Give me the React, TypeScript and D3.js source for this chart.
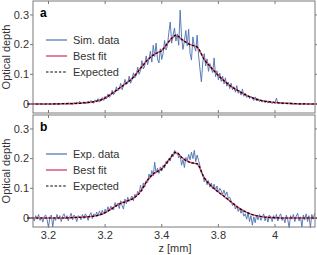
import React from 'react';
import * as d3 from 'd3';

// sampled data: z = zStart + i * zStep
const zStart = 3.145;
const zStep = 0.005;

const simData = [
  0, 0.001, 0, -0.001, 0, 0.001, 0, 0, -0.001, 0,
  0.001, 0, 0, 0.001, -0.001, 0, 0.002, 0, -0.001, 0.001,
  0.001, 0, 0.002, -0.001, 0.001, 0.003, 0, 0.002, -0.001, 0.004,
  0.001, 0.006, 0.002, 0.009, 0.001, 0.004, 0.007, 0.002, 0.003, 0.01,
  0.004, 0.012, 0.006, 0.003, 0.014, 0.008, 0.018, 0.007, 0.011, 0.022,
  0.012, 0.026, 0.018, 0.034, 0.022, 0.029, 0.046, 0.031, 0.04, 0.058,
  0.044, 0.052, 0.07, 0.048, 0.061, 0.083, 0.066, 0.072, 0.094, 0.07,
  0.082, 0.105, 0.088, 0.096, 0.124, 0.1, 0.112, 0.146, 0.118, 0.128,
  0.162, 0.132, 0.151, 0.178, 0.141, 0.198, 0.16, 0.205, 0.152, 0.138,
  0.186, 0.15, 0.172, 0.214, 0.182, 0.196, 0.24, 0.276, 0.205, 0.232,
  0.256, 0.212, 0.236, 0.198, 0.316, 0.225, 0.184, 0.212, 0.248, 0.196,
  0.252, 0.17, 0.148, 0.226, 0.194, 0.178, 0.232, 0.165, 0.118, 0.075,
  0.142, 0.17, 0.128, 0.152, 0.11, 0.136, 0.118, 0.106, 0.155, 0.092,
  0.112, 0.082, 0.104, 0.076, 0.094, 0.068, 0.088, 0.06, 0.074, 0.052,
  0.07, 0.048, 0.058, 0.04, 0.062, 0.036, 0.046, 0.03, 0.05, 0.026,
  0.036, 0.022, 0.03, 0.018, 0.026, 0.02, 0.012, 0.024, 0.01, 0.018,
  0.008, 0.014, 0.006, 0.012, 0.004, 0.01, 0.003, 0.008, 0.005, 0.002,
  0.006, 0.001, 0.02, 0.003, 0.001, 0.005, 0, 0.003, 0.001, 0.002,
  0, 0.003, 0, 0.001, -0.001, 0.002, 0, 0.001, 0, -0.001,
  0.001, 0, 0.002, 0, -0.001, 0.001, 0, 0, 0.001, 0,
];

const expData = [
  0.004, -0.01, 0.008, -0.004, 0.012, -0.008, 0.002, -0.014, 0.006, 0.01,
  -0.006, -0.032, 0.004, 0.01, -0.03, 0.002, -0.008, 0.012, -0.004, 0.008,
  -0.012, 0.006, 0.014, -0.002, 0.008, -0.01, 0.004, 0.016, -0.006, 0.01,
  0.002, -0.012, 0.008, 0.004, -0.006, 0.012, -0.002, 0.014, 0.006, -0.008,
  0.01, 0.018, -0.002, 0.014, 0.006, 0.02, 0.008, 0.024, 0.012, 0.026,
  0.014, 0.03, 0.02, 0.038, 0.024, 0.04, 0.03, 0.028, 0.052, 0.038,
  0.05, 0.032, 0.058, 0.042, 0.03, 0.064, 0.048, 0.07, 0.056, 0.066,
  0.074, 0.058, 0.08, 0.072, 0.09, 0.082, 0.11, 0.092, 0.118, 0.104,
  0.126, 0.12, 0.148, 0.136, 0.16, 0.142, 0.188, 0.152, 0.168, 0.15,
  0.172, 0.158, 0.178, 0.168, 0.19, 0.182, 0.2, 0.192, 0.214, 0.206,
  0.228, 0.216, 0.22, 0.202, 0.212, 0.178, 0.196, 0.17, 0.204, 0.192,
  0.214, 0.196, 0.222, 0.2, 0.228, 0.19, 0.212, 0.194, 0.176, 0.15,
  0.146, 0.122, 0.132, 0.112, 0.126, 0.104, 0.118, 0.098, 0.114, 0.094,
  0.108, 0.086, 0.1, 0.092, 0.08, 0.094, 0.076, 0.088, 0.066, 0.07,
  0.058, 0.042, 0.05, 0.03, 0.04, 0.022, 0.034, 0.016, 0.028, 0.006,
  0.014, -0.004, 0.018, -0.012, 0.008, -0.024, 0.004, -0.016, 0.01, -0.006,
  0.012, -0.008, 0.002, 0.014, -0.01, 0.006, -0.014, 0.01, 0.004, -0.012,
  0.008, -0.004, 0.012, -0.01, 0.006, 0.014, -0.008, 0.002, -0.016, 0.01,
  -0.006, -0.032, 0.008, -0.004, 0.012, -0.012, 0.006, 0.016, -0.01, 0.004,
  -0.03, 0.01, -0.006, 0.014, -0.012, 0.008, -0.032, 0.012, -0.004, 0.016,
];

// smooth curves on a coarser grid
const curveZ = [
  3.125, 3.2, 3.25, 3.3, 3.325, 3.35, 3.375, 3.4, 3.425, 3.45, 3.475, 3.5, 3.525, 3.55,
  3.575, 3.6, 3.625, 3.65, 3.675, 3.7, 3.725, 3.75, 3.775, 3.8, 3.825, 3.85, 3.875, 3.9,
  3.925, 3.95, 3.975, 4.0, 4.025, 4.05, 4.075, 4.125, 4.15,
];
const fitA = [
  0, 0, 0.001, 0.002, 0.004, 0.006, 0.011, 0.02, 0.036, 0.053, 0.071, 0.091, 0.121, 0.149,
  0.168, 0.181, 0.21, 0.23, 0.215, 0.201, 0.191, 0.151, 0.123, 0.097, 0.074, 0.056, 0.042, 0.029,
  0.019, 0.012, 0.008, 0.005, 0.003, 0.002, 0.001, 0, 0,
];
const expectedA = [
  0, 0, 0.001, 0.002, 0.004, 0.006, 0.011, 0.02, 0.036, 0.053, 0.07, 0.09, 0.12, 0.148,
  0.168, 0.18, 0.21, 0.232, 0.214, 0.2, 0.192, 0.15, 0.122, 0.096, 0.074, 0.056, 0.042, 0.029,
  0.019, 0.012, 0.008, 0.005, 0.003, 0.002, 0.001, 0, 0,
];
const fitB = [
  0, 0, 0, 0.002, 0.003, 0.005, 0.009, 0.018, 0.033, 0.048, 0.057, 0.067, 0.09, 0.127,
  0.151, 0.166, 0.196, 0.219, 0.201, 0.188, 0.182, 0.136, 0.107, 0.088, 0.069, 0.05, 0.032, 0.019,
  0.01, 0.005, 0.002, 0.001, 0, 0, 0, 0, 0,
];
const expectedB = [
  0, 0, 0, 0.002, 0.003, 0.005, 0.009, 0.018, 0.032, 0.047, 0.056, 0.066, 0.088, 0.128,
  0.152, 0.165, 0.195, 0.222, 0.2, 0.187, 0.183, 0.135, 0.108, 0.087, 0.07, 0.05, 0.032, 0.019,
  0.01, 0.005, 0.002, 0.001, 0, 0, 0, 0, 0,
];

const xTicks = [3.2, 3.4, 3.6, 3.8, 4.0];
const xTickLabels = ['3.2', '3.2', '3.4', '3.8', '4'];
const yTicks = [0, 0.1, 0.2, 0.3];
const yTickLabels = ['0', '0.1', '0.2', '0.3'];

const panels = [
  { tag: 'a', dataLabel: 'Sim. data', data: simData, fit: fitA, expected: expectedA, top: 1 },
  { tag: 'b', dataLabel: 'Exp. data', data: expData, fit: fitB, expected: expectedB, top: 115 },
];

const left = 33;
const right = 315;
const panelH = 112;
const font = 'Liberation Sans, Arial, sans-serif';
const blue = '#4a6fb0';
const pink = '#d8577a';
const frame = '#7a7a7a';

const x = d3.scaleLinear().domain([3.2, 4.0]).range([48.5, 275]);

const Panel = ({ p }: { p: typeof panels[0] }) => {
  const y = d3.scaleLinear().domain([-0.0303, 0.347]).range([p.top + panelH, p.top]);
  const dataLine = d3.line<number>()
    .x((_, i) => x(zStart + i * zStep))
    .y((d) => y(d));
  const smooth = d3.line<number>()
    .x((_, i) => x(curveZ[i]))
    .y((d) => y(d))
    .curve(d3.curveMonotoneX);

  const legend = [
    { label: p.dataLabel, color: blue, dash: undefined, w: 1.2 },
    { label: 'Best fit', color: pink, dash: undefined, w: 1.5 },
    { label: 'Expected', color: '#000', dash: '2.5,1.8', w: 1.2 },
  ];

  return (
    <g>
      <path d={dataLine(p.data) || ''} fill="none" stroke={blue} strokeWidth={0.9} />
      <path d={smooth(p.fit) || ''} fill="none" stroke={pink} strokeWidth={1.6} />
      <path d={smooth(p.expected) || ''} fill="none" stroke="#000" strokeWidth={1.2} strokeDasharray="2.5,1.8" />
      <rect x={left} y={p.top} width={right - left} height={panelH} fill="none" stroke={frame} strokeWidth={1} />
      {xTicks.map((t) => (
        <g key={t} stroke={frame}>
          <line x1={x(t)} x2={x(t)} y1={p.top} y2={p.top + 3} />
          <line x1={x(t)} x2={x(t)} y1={p.top + panelH} y2={p.top + panelH - 3} />
        </g>
      ))}
      {yTicks.map((t, i) => (
        <g key={t}>
          <line x1={left - 3} x2={left} y1={y(t)} y2={y(t)} stroke={frame} />
          <line x1={right} x2={right + 3} y1={y(t)} y2={y(t)} stroke={frame} />
          <text x={left - 4} y={y(t)} dy="0.35em" textAnchor="end" fontSize={11} fill="#333" fontFamily={font}>
            {yTickLabels[i]}
          </text>
        </g>
      ))}
      <text x={40} y={p.top + 16} fontSize={12} fontWeight="bold" fontFamily={font} fill="#000">{p.tag}</text>
      {legend.map((l, i) => {
        const ly = p.top + 39 + i * 16;
        return (
          <g key={l.label}>
            <line x1={46} x2={67} y1={ly} y2={ly} stroke={l.color} strokeWidth={l.w} strokeDasharray={l.dash} />
            <text x={73} y={ly} dy="0.35em" fontSize={11} fill="#333" fontFamily={font}>{l.label}</text>
          </g>
        );
      })}
      <text
        transform={`translate(10,${p.top + panelH / 2}) rotate(-90)`}
        textAnchor="middle"
        fontSize={11}
        fill="#333"
        fontFamily={font}
      >
        Optical depth
      </text>
    </g>
  );
};

const App = () => {
  return (
    <svg width={317} height={255} style={{ position: 'absolute', left: 0, top: 0, background: '#fff' }}>
      {panels.map((p) => (
        <Panel key={p.tag} p={p} />
      ))}
      {xTicks.map((t, i) => (
        <text key={t} x={x(t)} y={239} textAnchor="middle" fontSize={11} fill="#333" fontFamily={font}>
          {xTickLabels[i]}
        </text>
      ))}
      <text x={175} y={252} textAnchor="middle" fontSize={11} fill="#333" fontFamily={font}>z [mm]</text>
    </svg>
  );
};

export default App;
